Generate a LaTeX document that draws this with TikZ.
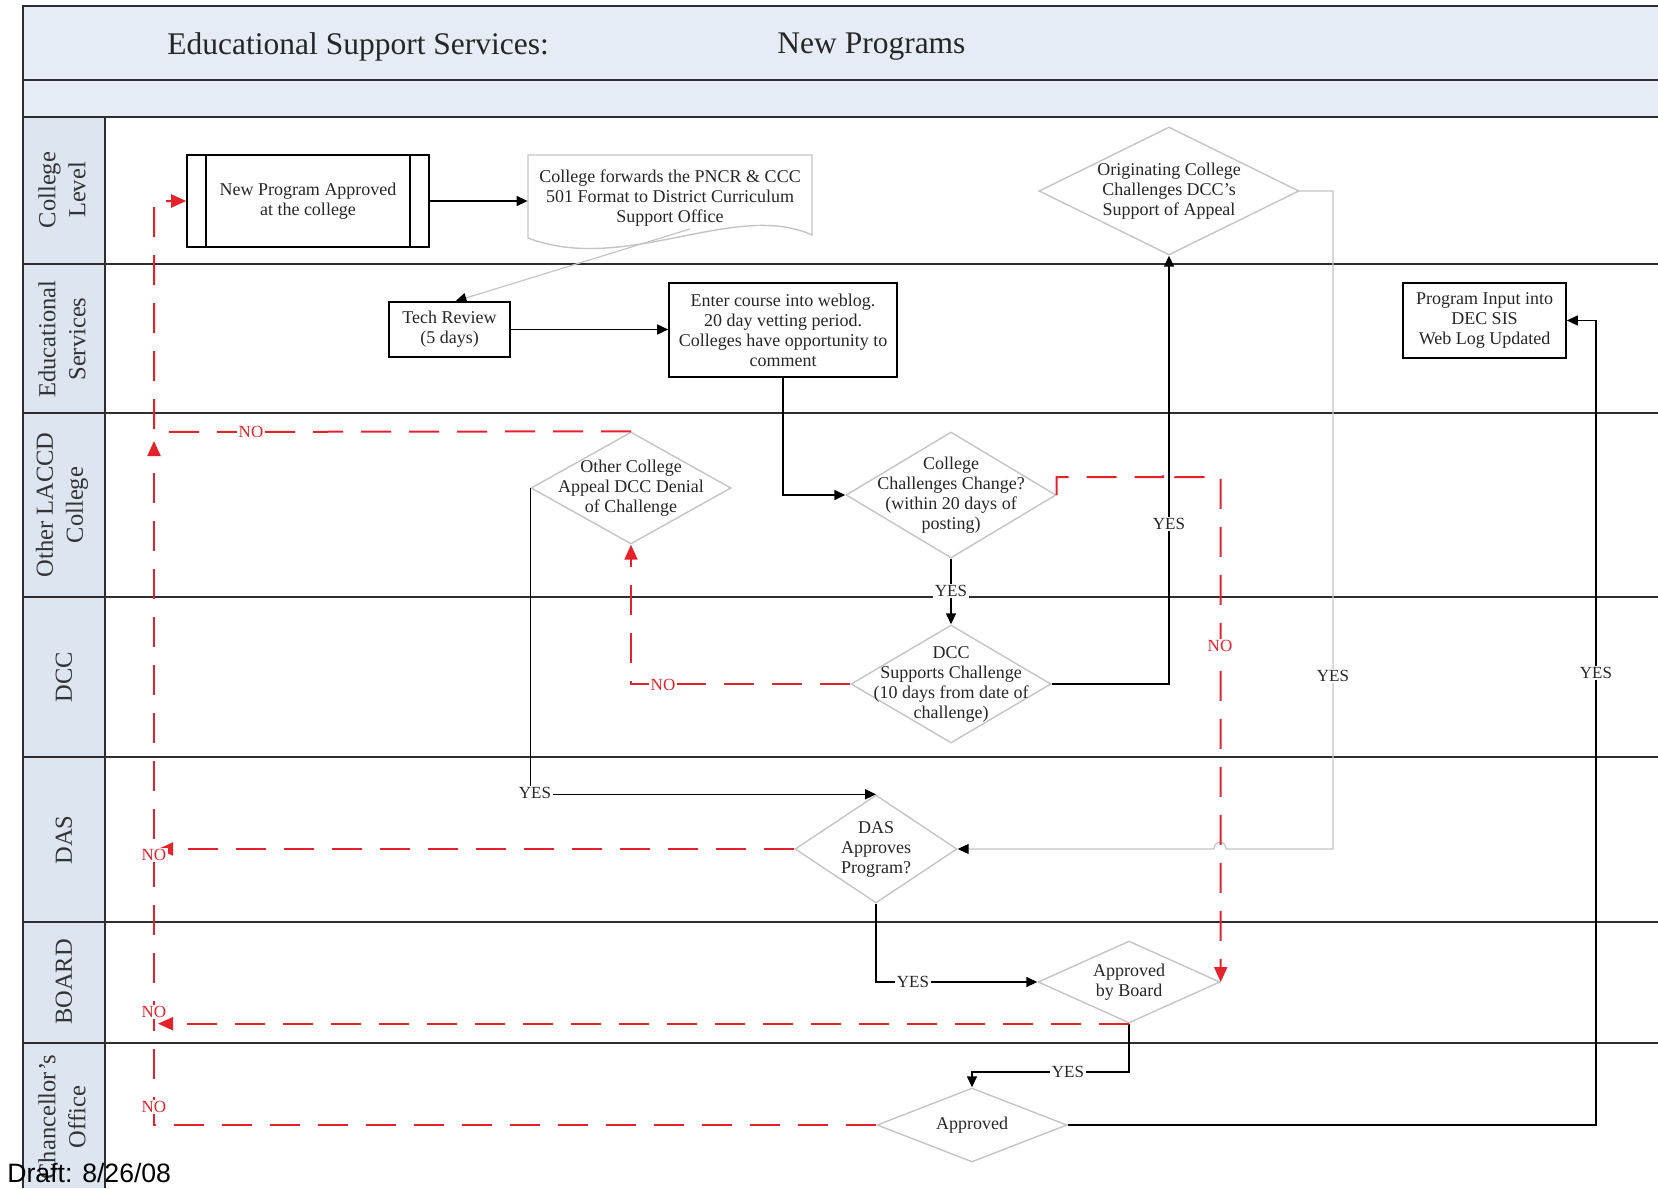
\documentclass[tikz,border=0pt]{standalone}
\usepackage{fontspec}
\setmainfont{Liberation Serif}
\newfontfamily\draftfont{Liberation Sans}
\usetikzlibrary{shapes.geometric,arrows.meta,calc}

\definecolor{hdrfill}{HTML}{E6ECF5}
\definecolor{lanefill}{HTML}{DDE5F1}
\definecolor{rulecol}{HTML}{2E2E2E}
\definecolor{noRed}{HTML}{E3222B}
\definecolor{shapeGray}{HTML}{C4C4C4}
\definecolor{linkGray}{HTML}{C4C4C4}

\begin{document}
\begin{tikzpicture}[x=0.5pt,y=-0.5pt,
  every node/.style={font=\fontsize{9}{10}\selectfont, text=black!85},
  procbox/.style={draw=black, line width=0.8pt, inner sep=0pt, align=center},
  decision/.style={diamond, draw=shapeGray, line width=0.7pt, inner sep=0pt},
  dtext/.style={align=center, inner sep=0pt},
  flow/.style={draw=black, line width=0.75pt, -{Triangle[length=5.5pt,width=5pt]}},
  noflow/.style={draw=noRed, line width=1pt, dash pattern=on 15pt off 9pt, -{Triangle[length=7.5pt,width=6.5pt]}},
  softflow/.style={draw=linkGray, line width=0.6pt, -{Triangle[length=5.5pt,width=5pt,color=black]}},
  yes/.style={fill=white, inner sep=0.8pt, font=\fontsize{8.5}{9}\selectfont},
  no/.style={fill=white, inner sep=0.8pt, font=\fontsize{8.5}{9}\selectfont, text=noRed},
  lanetitle/.style={rotate=90, align=center, font=\fontsize{12.25}{15}\selectfont, text=black!80},
  ruleline/.style={draw=rulecol, line width=1pt},
]
\useasboundingbox (0,0) rectangle (1658,1188);

% ---- frame, header bands and swim lanes ----
\fill[hdrfill] (23,6) rectangle (1658,117);
\fill[lanefill] (23,117) rectangle (105,1188);
\draw[ruleline] (23,1188) -- (23,6) -- (1658,6);
\foreach \yy in {80,117,264,413,597,757,922,1043}
  \draw[ruleline] (23,\yy) -- (1658,\yy);
\draw[ruleline] (105,117) -- (105,1188);

\node[anchor=west, inner sep=0pt, font=\fontsize{15.75}{18}\selectfont] (ttl) at (167,47) {Educational Support Services:};
\node[anchor=west, inner sep=0pt, font=\fontsize{15.75}{18}\selectfont] (ttlb) at (777,47) {New Programs};

\node[lanetitle] (lane1) at (62,190) {College\\Level};
\node[lanetitle] (lane2) at (62,339) {Educational\\Services};
\node[lanetitle] (lane3) at (62,505) {Other LACCD\\College};
\node[lanetitle] (lane4) at (64,677) {DCC};
\node[lanetitle] (lane5) at (64,840) {DAS};
\node[lanetitle] (lane6) at (64,982) {BOARD};
\node[lanetitle] (lane7) at (62,1117) {Chancellor’s\\Office};

% ---- process boxes ----
\node[procbox, minimum width=121pt, minimum height=46pt] (np) at (308,201) {New Program Approved\\at the college};
\draw[line width=0.8pt] ([xshift=10pt]np.north west) -- ([xshift=10pt]np.south west);
\draw[line width=0.8pt] ([xshift=-10pt]np.north east) -- ([xshift=-10pt]np.south east);

\draw[shapeGray, line width=0.7pt] (528,155) -- (812,155) -- (812,235)
  .. controls (735,200) and (625,275) .. (528,238) -- cycle;
\node[dtext, minimum width=142pt, minimum height=40pt] (doc) at (670,198)
  {College forwards the PNCR \& CCC\\501 Format to District Curriculum\\Support Office};
\coordinate (docout) at (690,229);

\node[procbox, minimum width=60.5pt, minimum height=27.5pt] (tr) at (449.5,329.5) {Tech Review\\(5 days)};
\node[procbox, minimum width=114pt, minimum height=47pt] (en) at (783,330)
  {Enter course into weblog.\\20 day vetting period.\\Colleges have opportunity to\\comment};
\node[procbox, minimum width=81.5pt, minimum height=37.5pt] (pi) at (1484.5,320.5)
  {Program Input into\\DEC SIS\\Web Log Updated};

% ---- decisions ----
\node[decision, minimum width=130pt, minimum height=64pt] (orig) at (1169,191) {};
\node[dtext] (origt) at (orig) {Originating College\\Challenges DCC’s\\Support of Appeal};
\node[decision, minimum width=100pt, minimum height=56pt] (oc) at (631,488) {};
\node[dtext] (oct) at (oc) {Other College\\Appeal DCC Denial\\of Challenge};
\node[decision, minimum width=105pt, minimum height=63pt] (cc) at (951,495) {};
\node[dtext] (cct) at (cc) {College\\Challenges Change?\\(within 20 days of\\posting)};
\node[decision, minimum width=100pt, minimum height=59pt] (dcc) at (951,684) {};
\node[dtext] (dcct) at (dcc) {DCC\\Supports Challenge\\(10 days from date of\\challenge)};
\node[decision, minimum width=81pt, minimum height=54pt] (das) at (876,849) {};
\node[dtext] (dast) at (das) {DAS\\Approves\\Program?};
\node[decision, minimum width=91pt, minimum height=41pt] (bb) at (1129,982) {};
\node[dtext] (bbt) at (bb) {Approved\\by Board};
\node[decision, minimum width=95pt, minimum height=37pt] (ap) at (972,1125) {};
\node[dtext] (apt) at (ap) {Approved};

% ---- helper points for routing ----
\coordinate (lft) at (154,432);
\coordinate (lftup) at (154,441);
\coordinate (hopA) at (1163,477);
\coordinate (hopB) at (1175,477);
\coordinate (g1) at (1333,849);
\coordinate (hopC) at (1226,849);
\coordinate (hopD) at (1214,849);
\coordinate (b2) at (1129,1072);
\coordinate (rx) at (1596,0);

% ---- solid connectors ----
\draw[flow] (np.east) -- (np.east -| doc.west);
\draw[softflow] (docout) -- ([xshift=3pt]tr.north);
\draw[flow] (tr.east) -- (tr.east -| en.west);
\draw[flow] (en.south) |- (cc.west);
\draw[flow] (cc.south) -- (dcc.north);
\draw[flow] (dcc.east) -| (orig.south);
\draw[flow] (oc.west) |- (das.north);
\draw[softflow] (orig.east) -| (g1) -- (hopC) .. controls +(0,-9) and +(0,-9) .. (hopD) -- (das.east);
\draw[flow] (das.south) |- (bb.west);
\draw[flow] (bb.south) -- (b2) -| (ap.north);
\draw[flow] (ap.east) -- (ap.east -| rx) |- (pi.east);

% ---- rejection (NO) connectors ----
\draw[noflow] (cc.east) |- (hopA) .. controls +(0,-9) and +(0,-9) .. (hopB) -| (bb.east);
\draw[noflow] (dcc.west) -| (oc.south);
\draw[noflow] (oc.north) -- (lft) |- (np.west);
\draw[noflow] (das.west) -- ([xshift=2pt]das.west -| lft);
\draw[noflow] (bb.south) -- ([xshift=2pt]bb.south -| lft);
\draw[noflow] (ap.west) -| (lftup);

% ---- connector labels ----
\node[yes] (y1) at (951,591) {YES};
\node[yes] (y2) at (1169,524) {YES};
\node[yes] (y3) at (1333,676) {YES};
\node[yes] (y4) at (1596,673) {YES};
\node[yes] (y5) at (535,793) {YES};
\node[yes] (y6) at (913,982) {YES};
\node[yes] (y7) at (1068,1072) {YES};

\node[no] (n1) at (251,432) {NO};
\node[no] (n2) at (663,685) {NO};
\node[no] (n3) at (1220,646) {NO};
\node[no] (n4) at (154,855) {NO};
\node[no] (n5) at (154,1012) {NO};
\node[no] (n6) at (154,1107) {NO};

\node[anchor=base west, inner sep=0pt, font=\draftfont\fontsize{13.3}{15}\selectfont, text=black] (draft) at (7,1182) {Draft: 8/26/08};
\end{tikzpicture}
\end{document}
